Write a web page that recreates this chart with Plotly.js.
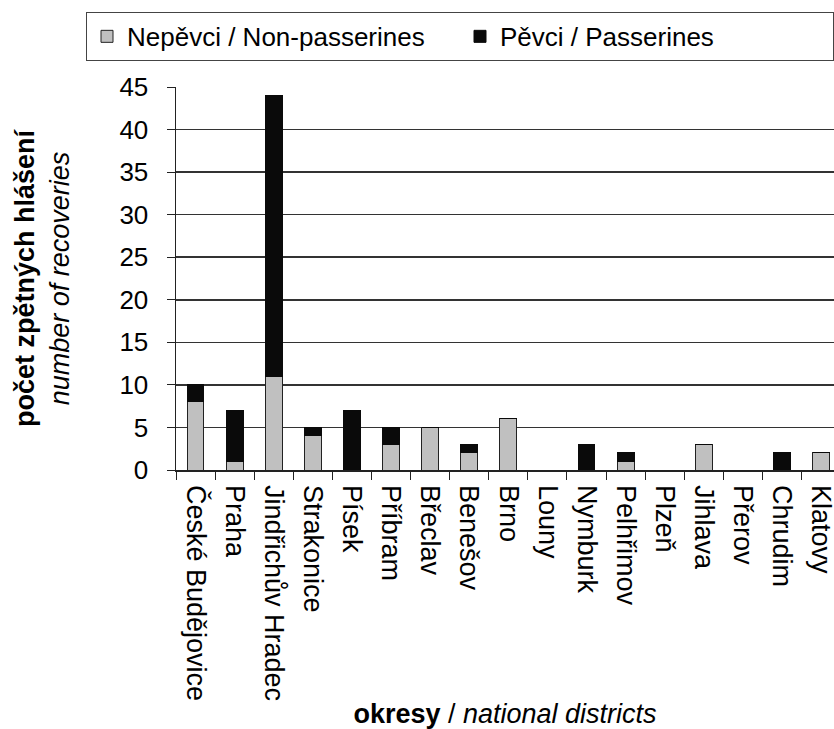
<!DOCTYPE html>
<html>
<head>
<meta charset="utf-8">
<script src="https://cdn.plot.ly/plotly-3.0.1.min.js"></script>
<style>html,body{margin:0;padding:0;background:#fff;}#chart{width:834px;height:729px;}</style>
</head>
<body>
<div id="chart"></div>
<script>
const districts = ["České Budějovice","Praha","Jindřichův Hradec","Strakonice","Písek","Příbram","Břeclav","Benešov","Brno","Louny","Nymburk","Pelhřimov","Plzeň","Jihlava","Přerov","Chrudim","Klatovy"];
const nonPasserines = [8,1,11,4,0,3,5,2,6,0,0,1,0,3,0,0,2];
const passerines   = [2,6,33,1,7,2,0,1,0,0,3,1,0,0,0,2,0];
const seriesNames = ["Nepěvci / Non-passerines","Pěvci / Passerines"];
const yTicks = [0,5,10,15,20,25,30,35,40,45];

const FAM = "Liberation Sans, Arial, sans-serif";

const data = [
  {type:"bar", name:seriesNames[0], x:districts, y:nonPasserines,
   marker:{color:"#c0c0c0", line:{color:"#222", width:1}}},
  {type:"bar", name:seriesNames[1], x:districts, y:passerines,
   marker:{color:"#0a0a0a", line:{color:"#0a0a0a", width:1}}}
];

const layout = {
  width:834, height:729,
  margin:{l:176, r:0, t:87, b:259},
  paper_bgcolor:"#fff", plot_bgcolor:"#fff",
  barmode:"stack", bargap:0.57,
  font:{family:FAM, color:"#000"},
  showlegend:true,
  legend:{orientation:"h", traceorder:"normal", x:-0.046, xanchor:"left", y:1.196, yanchor:"top",
    font:{family:FAM, size:26, color:"#000"},
    bordercolor:"#444", borderwidth:1, bgcolor:"#fff", entrywidth:328, itemwidth:30},
  xaxis:{type:"category", range:[-0.5,16.33], tickson:"boundaries", ticks:"outside", ticklen:8, tickcolor:"#222",
    tickangle:90, tickfont:{family:FAM, size:27, color:"#000"}, ticklabelstandoff:8,
    showline:true, linecolor:"#222", linewidth:1.5, showgrid:false,
    title:{text:"<b>okresy</b> / <i>national districts</i>", font:{family:FAM, size:27, color:"#000"}, standoff:4}},
  yaxis:{range:[0,45], tickvals:yTicks, ticks:"outside", ticklen:8, tickcolor:"#222",
    tickfont:{family:FAM, size:26, color:"#000"}, ticklabelstandoff:13,
    showline:true, linecolor:"#222", linewidth:1.5, showgrid:true, gridcolor:"#333", gridwidth:1.5, zeroline:false,
    title:{text:"<b>počet zpětných hlášení</b><br><i>number of recoveries</i>", font:{family:FAM, size:27, color:"#000"}, standoff:42}}
};

Plotly.newPlot("chart", data, layout, {displayModeBar:false, staticPlot:true});
</script>
</body>
</html>
